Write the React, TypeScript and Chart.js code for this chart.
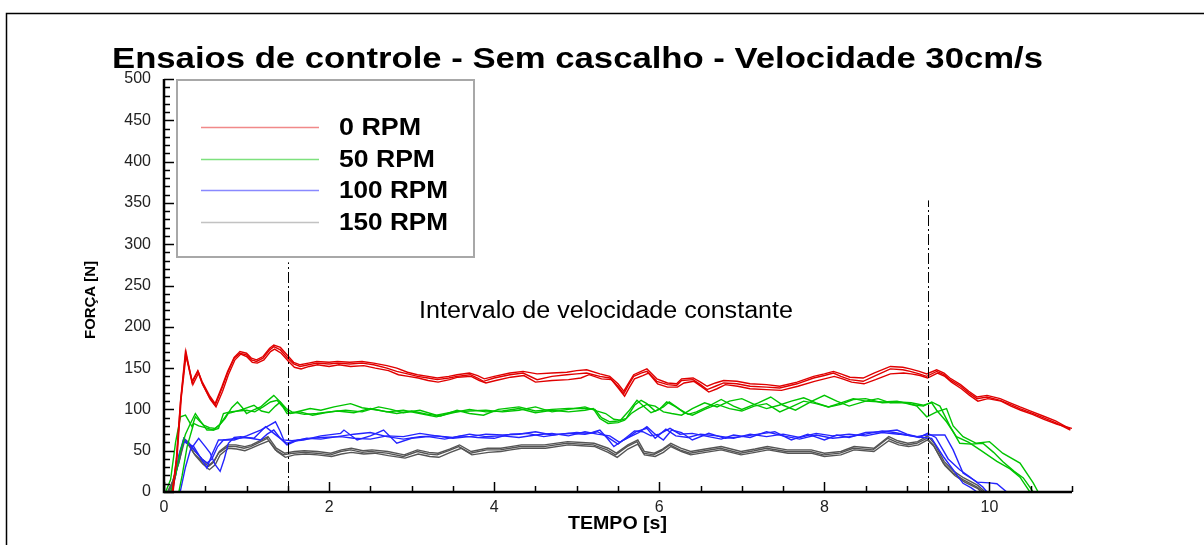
import React, { useEffect, useRef } from "react";
import { Chart, registerables } from "chart.js";

Chart.register(...registerables);

type P = [number, number];

const chartTitle = "Ensaios de controle - Sem cascalho - Velocidade 30cm/s";
const xTitle = "TEMPO [s]";
const yTitle = "FORÇA [N]";
const noteText = "Intervalo de velocidade constante";
const seriesLabels = ["0 RPM", "50 RPM", "100 RPM", "150 RPM"];
const seriesColors = ["#e00000", "#00c400", "#2424ff", "#555555"];
const legendColors = ["rgba(230,40,40,0.55)", "rgba(20,200,20,0.55)", "rgba(40,40,255,0.55)", "rgba(120,120,120,0.45)"];

const xMin = 0;
const xMax = 11;
const yMin = 0;
const yMax = 500;
const markerTimes = [1.5, 9.25];
const markerTops = [278, 353];

// 0 RPM runs
const red1: P[] = [[0.10,0],[0.15,40],[0.20,110],[0.26,170],[0.30,150],[0.34,132],[0.41,146],[0.46,132],[0.55,115],[0.62,105],[0.70,125],[0.77,144],[0.85,162],[0.92,168],[1.0,166],[1.06,160],[1.12,158],[1.2,162],[1.28,172],[1.33,176],[1.41,172],[1.5,162],[1.57,155],[1.65,152],[1.75,154],[1.85,156],[2.0,155],[2.1,156],[2.25,155],[2.4,156],[2.54,154],[2.7,150],[2.82,146],[2.95,143],[3.07,140],[3.2,138],[3.31,136],[3.45,138],[3.55,140],[3.71,142],[3.8,138],[3.87,134],[4.0,138],[4.19,142],[4.35,144],[4.52,136],[4.7,140],[4.88,142],[5.0,143],[5.12,144],[5.28,140],[5.4,138],[5.5,128],[5.57,119],[5.63,130],[5.69,140],[5.78,144],[5.85,146],[5.97,134],[6.1,130],[6.21,129],[6.27,135],[6.41,136],[6.5,130],[6.58,124],[6.68,128],[6.78,132],[6.94,131],[7.1,128],[7.3,127],[7.46,126],[7.67,131],[7.87,138],[8.0,141],[8.11,144],[8.2,140],[8.31,136],[8.47,134],[8.6,140],[8.8,149],[8.95,148],[9.04,146],[9.15,143],[9.24,140],[9.36,146],[9.45,142],[9.52,136],[9.65,128],[9.75,120],[9.85,113],[9.97,115],[10.13,111],[10.25,106],[10.37,101],[10.5,96],[10.65,90],[10.8,84],[10.98,75]];
const red2: P[] = [[0.11,0],[0.16,45],[0.21,115],[0.27,168],[0.31,148],[0.35,130],[0.42,144],[0.47,130],[0.56,112],[0.63,103],[0.71,122],[0.78,142],[0.86,160],[0.93,167],[1.0,164],[1.07,157],[1.13,156],[1.21,160],[1.29,170],[1.34,173],[1.42,168],[1.51,158],[1.58,151],[1.66,149],[1.76,152],[1.86,154],[2.0,152],[2.12,154],[2.26,152],[2.42,153],[2.56,150],[2.72,147],[2.84,142],[2.96,140],[3.08,138],[3.2,135],[3.32,133],[3.46,136],[3.56,139],[3.72,140],[3.82,135],[3.9,132],[4.02,135],[4.2,139],[4.36,141],[4.5,133],[4.7,135],[4.9,136],[5.05,138],[5.15,142],[5.3,137],[5.42,136],[5.51,125],[5.58,116],[5.64,127],[5.7,137],[5.8,141],[5.87,144],[5.98,131],[6.1,127],[6.22,127],[6.3,132],[6.42,134],[6.52,127],[6.6,121],[6.7,125],[6.8,130],[6.95,128],[7.1,125],[7.3,124],[7.48,123],[7.68,128],[7.88,134],[8.0,137],[8.12,140],[8.22,137],[8.33,133],[8.48,131],[8.62,136],[8.8,143],[8.96,144],[9.05,143],[9.16,141],[9.25,138],[9.37,144],[9.46,140],[9.54,133],[9.66,125],[9.76,117],[9.86,110],[9.98,113],[10.14,110],[10.26,104],[10.38,99],[10.52,94],[10.66,88],[10.82,82],[11.0,77]];
const red3: P[] = [[0.10,0],[0.15,38],[0.2,108],[0.26,166],[0.3,152],[0.34,134],[0.41,147],[0.46,134],[0.55,117],[0.62,107],[0.7,127],[0.77,146],[0.85,163],[0.92,170],[1.0,168],[1.06,162],[1.12,160],[1.2,164],[1.28,174],[1.33,178],[1.41,175],[1.5,165],[1.57,157],[1.65,154],[1.75,156],[1.85,158],[2.0,157],[2.1,158],[2.25,157],[2.4,158],[2.54,156],[2.7,153],[2.82,150],[2.95,145],[3.07,142],[3.2,140],[3.31,138],[3.45,140],[3.55,142],[3.7,144],[3.8,141],[3.88,137],[4.0,140],[4.19,144],[4.35,146],[4.52,143],[4.7,144],[4.88,145],[5.0,147],[5.12,148],[5.28,143],[5.4,140],[5.5,131],[5.57,122],[5.63,132],[5.69,142],[5.78,146],[5.85,149],[5.97,137],[6.1,132],[6.21,131],[6.27,137],[6.41,138],[6.5,133],[6.58,128],[6.68,132],[6.78,135],[6.94,134],[7.1,131],[7.3,130],[7.46,128],[7.67,133],[7.87,140],[8.0,143],[8.11,146],[8.2,143],[8.31,139],[8.47,138],[8.6,144],[8.8,152],[8.95,151],[9.04,149],[9.15,146],[9.24,143],[9.36,148],[9.45,144],[9.52,138],[9.65,130],[9.75,122],[9.85,115],[9.97,117],[10.13,113],[10.25,108],[10.37,103],[10.5,98],[10.65,92],[10.8,86],[10.98,76]];

// 50 RPM runs
const green1: P[] = [[0.02,0],[0.08,15],[0.14,60],[0.2,91],[0.26,93],[0.3,86],[0.34,79],[0.38,91],[0.43,86],[0.48,81],[0.55,78],[0.62,77],[0.68,82],[0.74,89],[0.82,102],[0.89,109],[0.95,102],[1.0,95],[1.08,99],[1.17,103],[1.25,110],[1.33,117],[1.4,110],[1.47,100],[1.53,95],[1.65,98],[1.77,101],[1.9,99],[2.06,103],[2.26,107],[2.4,102],[2.6,99],[2.82,95],[3.0,98],[3.2,94],[3.35,92],[3.55,99],[3.7,95],[3.87,93],[4.05,100],[4.3,103],[4.5,98],[4.7,100],[4.9,101],[5.1,101],[5.22,100],[5.3,90],[5.4,85],[5.5,86],[5.6,89],[5.7,105],[5.78,111],[5.85,107],[5.95,98],[6.05,103],[6.12,109],[6.25,100],[6.35,94],[6.45,97],[6.6,104],[6.75,112],[6.9,104],[7.0,100],[7.2,108],[7.35,115],[7.5,105],[7.65,99],[7.85,110],[8.0,117],[8.15,110],[8.3,104],[8.5,110],[8.65,113],[8.8,108],[9.0,108],[9.12,104],[9.24,91],[9.36,97],[9.48,101],[9.56,80],[9.68,67],[9.84,59],[10.0,61],[10.16,47],[10.37,35],[10.53,11],[10.59,0]];
const green2: P[] = [[0.08,0],[0.14,20],[0.2,50],[0.26,70],[0.32,83],[0.38,95],[0.44,86],[0.52,75],[0.6,75],[0.68,82],[0.77,95],[0.85,97],[0.95,100],[1.09,105],[1.18,98],[1.27,96],[1.35,104],[1.41,109],[1.48,101],[1.55,97],[1.7,94],[1.85,95],[2.0,97],[2.2,99],[2.4,97],[2.6,103],[2.75,100],[2.9,96],[3.1,99],[3.3,93],[3.5,97],[3.7,98],[3.9,99],[4.1,97],[4.3,99],[4.5,103],[4.7,97],[4.9,100],[5.1,103],[5.25,98],[5.35,95],[5.45,88],[5.53,87],[5.63,98],[5.73,111],[5.82,103],[5.9,96],[6.0,100],[6.09,109],[6.2,103],[6.3,96],[6.4,93],[6.55,100],[6.7,106],[6.85,101],[7.0,98],[7.15,104],[7.3,107],[7.46,97],[7.6,103],[7.75,110],[7.9,107],[8.05,103],[8.2,106],[8.35,112],[8.5,113],[8.7,108],[8.9,109],[9.05,108],[9.2,105],[9.3,108],[9.36,99],[9.48,85],[9.6,67],[9.75,60],[9.9,50],[10.09,37],[10.25,28],[10.37,18],[10.49,0]];
const green3: P[] = [[0.18,0],[0.22,20],[0.28,55],[0.36,83],[0.42,80],[0.5,78],[0.6,75],[0.66,77],[0.72,95],[0.8,97],[0.9,98],[1.0,99],[1.1,97],[1.2,103],[1.29,109],[1.37,111],[1.44,103],[1.49,95],[1.58,96],[1.65,97],[1.8,93],[1.95,96],[2.1,98],[2.3,96],[2.5,101],[2.7,97],[2.9,99],[3.1,95],[3.3,91],[3.5,96],[3.7,100],[3.9,97],[4.1,98],[4.3,101],[4.5,96],[4.7,99],[4.9,97],[5.1,99],[5.2,101],[5.28,89],[5.38,83],[5.5,84],[5.58,87],[5.66,95],[5.75,101],[5.85,106],[5.95,104],[6.05,97],[6.15,95],[6.27,93],[6.4,101],[6.55,108],[6.7,103],[6.85,110],[7.0,113],[7.15,106],[7.3,101],[7.45,105],[7.6,110],[7.75,114],[7.9,108],[8.05,103],[8.2,108],[8.35,113],[8.5,110],[8.7,109],[8.88,110],[9.05,106],[9.2,104],[9.3,109],[9.4,104],[9.52,80],[9.64,59],[9.78,58],[9.92,59],[10.05,48],[10.16,37],[10.3,25],[10.41,17],[10.53,0]];

// 100 RPM runs
const blue1: P[] = [[0.1,0],[0.12,10],[0.18,45],[0.24,65],[0.32,56],[0.4,47],[0.46,40],[0.52,35],[0.58,40],[0.65,55],[0.72,63],[0.8,64],[0.89,65],[1.0,66],[1.09,65],[1.16,72],[1.23,79],[1.33,71],[1.42,64],[1.49,59],[1.6,62],[1.69,63],[1.9,68],[2.14,71],[2.18,75],[2.34,63],[2.5,68],[2.66,75],[2.82,59],[3.0,65],[3.2,67],[3.4,64],[3.6,68],[3.8,66],[4.0,65],[4.2,70],[4.4,71],[4.6,67],[4.8,70],[5.0,72],[5.15,71],[5.28,75],[5.37,65],[5.45,55],[5.55,62],[5.65,67],[5.75,72],[5.85,79],[5.95,70],[6.05,63],[6.15,75],[6.27,72],[6.4,63],[6.6,71],[6.8,65],[7.0,67],[7.2,70],[7.4,73],[7.6,63],[7.8,70],[8.0,63],[8.15,69],[8.3,66],[8.5,72],[8.7,73],[8.88,75],[9.0,70],[9.12,67],[9.24,69],[9.36,69],[9.46,69],[9.56,51],[9.68,23],[9.85,12],[10.0,11],[10.09,10],[10.21,0]];
const blue2: P[] = [[0.18,0],[0.2,2],[0.26,30],[0.32,51],[0.42,65],[0.5,55],[0.56,47],[0.62,33],[0.68,25],[0.73,40],[0.78,59],[0.85,66],[0.93,67],[1.05,65],[1.17,63],[1.25,70],[1.33,75],[1.4,66],[1.49,57],[1.6,62],[1.73,65],[1.9,64],[2.1,67],[2.3,70],[2.5,72],[2.7,67],[2.9,64],[3.1,67],[3.3,68],[3.5,66],[3.7,70],[3.9,67],[4.1,68],[4.3,66],[4.5,69],[4.7,71],[4.9,68],[5.1,73],[5.25,70],[5.4,68],[5.52,60],[5.62,66],[5.72,73],[5.85,77],[5.95,65],[6.08,76],[6.2,68],[6.35,66],[6.5,70],[6.7,68],[6.9,65],[7.1,70],[7.3,67],[7.5,70],[7.7,66],[7.9,71],[8.1,68],[8.3,70],[8.5,68],[8.7,72],[8.9,70],[9.05,68],[9.2,66],[9.3,65],[9.44,43],[9.56,27],[9.68,10.5],[9.78,5],[9.85,0]];
const blue3: P[] = [[0.08,0],[0.14,20],[0.2,50],[0.24,61],[0.3,58],[0.36,55],[0.44,42],[0.52,29],[0.58,45],[0.66,63],[0.75,63],[0.85,63],[1.0,68],[1.17,75],[1.28,81],[1.35,85],[1.41,73],[1.45,63],[1.55,62],[1.7,64],[1.9,66],[2.14,67],[2.3,65],[2.5,64],[2.7,68],[2.9,67],[3.1,71],[3.3,68],[3.5,65],[3.7,67],[3.9,70],[4.1,69],[4.3,70],[4.5,73],[4.7,69],[4.9,71],[5.1,70],[5.25,73],[5.35,68],[5.5,58],[5.6,66],[5.7,74],[5.8,73],[5.9,68],[6.0,70],[6.13,77],[6.25,70],[6.4,71],[6.55,68],[6.75,64],[6.9,69],[7.1,66],[7.3,73],[7.5,68],[7.7,64],[7.9,69],[8.1,65],[8.3,67],[8.5,70],[8.7,74],[8.85,72],[9.0,69],[9.15,66],[9.25,71],[9.35,66],[9.5,40],[9.64,27],[9.76,18.5],[9.92,6],[9.97,0]];

// 150 RPM runs
const gray1: P[] = [[0.04,0],[0.1,12],[0.18,35],[0.24,63],[0.3,58],[0.36,47],[0.45,38],[0.54,31],[0.6,36],[0.66,47],[0.77,55],[0.87,55],[0.97,53],[1.05,55],[1.13,59],[1.25,65],[1.35,51],[1.45,45],[1.57,47],[1.7,48],[1.85,47],[2.02,45],[2.14,49],[2.26,51],[2.4,48],[2.5,49],[2.7,47],[2.9,43],[3.07,49],[3.2,46],[3.31,45],[3.45,50],[3.57,55],[3.71,47],[3.91,51],[4.07,51],[4.19,53],[4.32,55],[4.6,55],[4.88,59],[5.05,58],[5.2,57],[5.37,51],[5.47,45],[5.61,55],[5.73,61],[5.81,47],[5.93,45],[6.03,50],[6.13,57],[6.25,51],[6.37,47],[6.55,50],[6.74,53],[6.98,47],[7.15,50],[7.3,53],[7.54,49],[7.83,49],[7.99,45],[8.19,47],[8.35,53],[8.59,51],[8.77,65],[8.88,60],[9.0,57],[9.12,59],[9.24,65],[9.32,57],[9.44,35],[9.56,23],[9.68,15],[9.85,6],[9.93,0]];
const gray2: P[] = [[0.06,0],[0.12,15],[0.19,40],[0.25,62],[0.31,55],[0.38,44],[0.47,34],[0.55,27],[0.62,33],[0.68,45],[0.78,53],[0.88,52],[0.98,50],[1.06,53],[1.15,57],[1.27,62],[1.37,49],[1.47,42],[1.58,45],[1.72,46],[1.86,45],[2.03,43],[2.15,46],[2.27,48],[2.42,46],[2.55,47],[2.72,44],[2.92,41],[3.08,46],[3.22,43],[3.33,42],[3.47,48],[3.6,53],[3.73,45],[3.93,48],[4.08,49],[4.2,51],[4.33,53],[4.62,53],[4.9,57],[5.06,56],[5.22,55],[5.38,48],[5.49,42],[5.62,52],[5.74,58],[5.82,45],[5.95,43],[6.05,48],[6.14,55],[6.27,49],[6.38,45],[6.56,48],[6.75,51],[6.99,45],[7.16,48],[7.32,51],[7.56,47],[7.84,47],[8.0,43],[8.2,45],[8.36,51],[8.6,49],[8.78,62],[8.9,57],[9.02,55],[9.14,57],[9.25,63],[9.33,55],[9.46,32],[9.58,20],[9.7,12],[9.86,4],[9.9,0]];
const gray3: P[] = [[0.05,0],[0.11,14],[0.18,38],[0.24,65],[0.3,60],[0.37,50],[0.46,40],[0.55,33],[0.61,38],[0.67,49],[0.77,57],[0.87,57],[0.98,55],[1.06,57],[1.14,61],[1.26,67],[1.36,53],[1.46,47],[1.58,49],[1.7,50],[1.86,49],[2.02,47],[2.15,51],[2.27,53],[2.41,50],[2.52,51],[2.71,49],[2.91,45],[3.07,51],[3.21,48],[3.32,47],[3.46,52],[3.58,57],[3.72,49],[3.92,53],[4.08,53],[4.2,55],[4.33,57],[4.61,57],[4.89,61],[5.06,60],[5.21,59],[5.38,53],[5.48,47],[5.62,57],[5.74,63],[5.82,49],[5.94,47],[6.04,52],[6.14,59],[6.26,53],[6.38,49],[6.56,52],[6.75,55],[6.99,49],[7.16,52],[7.31,55],[7.55,51],[7.84,51],[8.0,47],[8.2,49],[8.36,55],[8.6,53],[8.78,67],[8.89,62],[9.01,59],[9.13,61],[9.25,68],[9.33,59],[9.45,37],[9.57,25],[9.69,17],[9.86,8],[9.95,0]];

const runGroups: P[][][] = [
  [red1, red2, red3],
  [green1, green2, green3],
  [blue1, blue2, blue3],
  [gray1, gray2, gray3],
];

const FONT = "'Liberation Sans', Arial, Helvetica, sans-serif";

// draws text stretched horizontally so that it spans the given width
function fitText(ctx: CanvasRenderingContext2D, text: string, x: number, y: number, width: number) {
  const w = ctx.measureText(text).width;
  const sx = width / w;
  ctx.save();
  ctx.translate(x, y);
  ctx.scale(sx, 1);
  ctx.fillText(text, 0, 0);
  ctx.restore();
}

const decoPlugin = {
  id: "deco",
  beforeDraw(chart: any) {
    const ctx: CanvasRenderingContext2D = chart.ctx;
    ctx.save();
    ctx.fillStyle = "#ffffff";
    ctx.fillRect(0, 0, chart.width, chart.height);
    ctx.strokeStyle = "#000";
    ctx.lineWidth = 1.5;
    ctx.strokeRect(6.5, 13.5, chart.width + 10, chart.height + 10);
    ctx.restore();
  },
  afterDatasetsDraw(chart: any) {
    const ctx: CanvasRenderingContext2D = chart.ctx;
    const xs = chart.scales.x;
    const ys = chart.scales.y;
    const a = chart.chartArea;
    ctx.save();
    // dash-dot markers
    ctx.strokeStyle = "#000";
    ctx.lineWidth = 1;
    ctx.setLineDash([11, 3, 2, 3]);
    markerTimes.forEach((t, i) => {
      const px = Math.round(xs.getPixelForValue(t)) + 0.5;
      ctx.beginPath();
      ctx.moveTo(px, ys.getPixelForValue(0));
      ctx.lineTo(px, ys.getPixelForValue(markerTops[i]));
      ctx.stroke();
    });
    ctx.setLineDash([]);
    // axes
    ctx.lineWidth = 2.5;
    ctx.beginPath();
    ctx.moveTo(a.left, a.top);
    ctx.lineTo(a.left, a.bottom);
    ctx.lineTo(a.right, a.bottom);
    ctx.stroke();
    ctx.lineWidth = 1.5;
    for (let v = yMin; v <= yMax + 0.001; v += 10) {
      const py = Math.round(ys.getPixelForValue(v)) + 0.5;
      const len = v % 50 === 0 ? 10 : 6;
      ctx.beginPath();
      ctx.moveTo(a.left, py);
      ctx.lineTo(a.left + len, py);
      ctx.stroke();
    }
    for (let v = xMin; v <= xMax + 0.001; v += 0.5) {
      const px = Math.round(xs.getPixelForValue(v)) + 0.5;
      const len = Math.abs(v % 2) < 0.001 ? 10 : 6;
      ctx.beginPath();
      ctx.moveTo(px, a.bottom);
      ctx.lineTo(px, a.bottom - len);
      ctx.stroke();
    }
    ctx.restore();
  },
  afterDraw(chart: any) {
    const ctx: CanvasRenderingContext2D = chart.ctx;
    ctx.save();
    ctx.fillStyle = "#000";
    ctx.textBaseline = "alphabetic";
    ctx.textAlign = "left";
    // title
    ctx.font = `bold 29px ${FONT}`;
    fitText(ctx, chartTitle, 112, 68, 931);
    // x title
    ctx.font = `bold 18px ${FONT}`;
    fitText(ctx, xTitle, 568, 529, 99);
    // y title
    ctx.save();
    ctx.translate(95, 339);
    ctx.rotate(-Math.PI / 2);
    ctx.font = `bold 15px ${FONT}`;
    fitText(ctx, yTitle, 0, 0, 78);
    ctx.restore();
    // note
    ctx.font = `23px ${FONT}`;
    fitText(ctx, noteText, 419, 318, 374);
    // legend
    ctx.fillStyle = "#fff";
    ctx.fillRect(177, 80, 297, 177);
    ctx.strokeStyle = "#a8a8a8";
    ctx.lineWidth = 2;
    ctx.strokeRect(177, 80, 297, 177);
    const rows = [127, 159, 190, 222];
    seriesLabels.forEach((lab, i) => {
      ctx.strokeStyle = legendColors[i];
      ctx.lineWidth = 1.5;
      ctx.beginPath();
      ctx.moveTo(201, rows[i] + 0.5);
      ctx.lineTo(319, rows[i] + 0.5);
      ctx.stroke();
      ctx.fillStyle = "#000";
      ctx.font = `bold 23px ${FONT}`;
      const target = lab.length === 5 ? 82 : lab.length === 6 ? 96 : 109;
      fitText(ctx, lab, 339, rows[i] + 8, target);
    });
    ctx.restore();
  },
};

export default function App() {
  const ref = useRef<HTMLCanvasElement | null>(null);
  useEffect(() => {
    document.body.style.margin = "0";
    const canvas = ref.current;
    if (!canvas) return;
    const datasets: any[] = [];
    runGroups.forEach((runs, g) => {
      runs.forEach((run, r) => {
        datasets.push({
          label: `${seriesLabels[g]} #${r + 1}`,
          data: run.map(([x, y]) => ({ x, y })),
          borderColor: seriesColors[g],
          borderWidth: 1.4,
          pointRadius: 0,
          tension: 0,
          fill: false,
        });
      });
    });
    const chart = new Chart(canvas, {
      type: "line",
      data: { datasets },
      options: {
        animation: false,
        responsive: false,
        devicePixelRatio: 1,
        layout: { padding: { left: 0, top: 79, right: 132, bottom: 0 } },
        plugins: {
          legend: { display: false },
          tooltip: { enabled: false },
          title: { display: false },
        },
        scales: {
          x: {
            type: "linear",
            min: xMin,
            max: xMax,
            afterFit: (s: any) => { s.height = 53; },
            grid: { display: false, drawTicks: false },
            border: { display: false },
            ticks: {
              stepSize: 2,
              includeBounds: false,
              padding: 6,
              color: "#222",
              font: { family: FONT, size: 16 },
              maxRotation: 0,
            },
          },
          y: {
            type: "linear",
            min: yMin,
            max: yMax,
            afterFit: (s: any) => { s.width = 164; },
            grid: { display: false, drawTicks: false },
            border: { display: false },
            ticks: {
              stepSize: 50,
              padding: 13,
              color: "#222",
              font: { family: FONT, size: 16 },
            },
          },
        },
      },
      plugins: [decoPlugin],
    });
    return () => chart.destroy();
  }, []);
  return (
    <div style={{ width: 1204, height: 545 }}>
      <canvas ref={ref} width={1204} height={545} style={{ display: "block" }} />
    </div>
  );
}
